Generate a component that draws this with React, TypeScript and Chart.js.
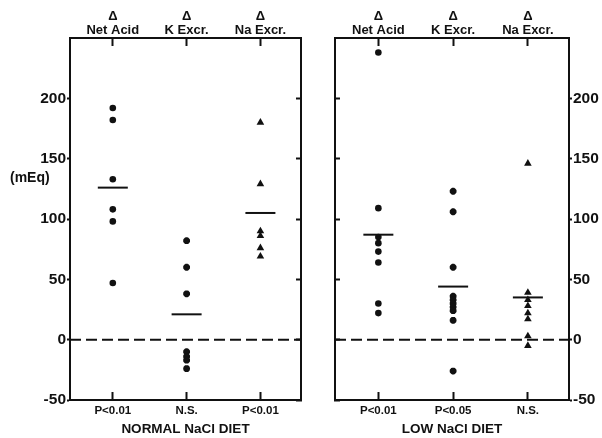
import React, { useEffect, useRef } from 'react';
import { Chart, registerables } from 'chart.js';

Chart.register(...registerables);

const FONT = "'Liberation Sans', Arial, sans-serif";
const INK = '#111111';

const CATEGORY_LABELS = ['Net Acid', 'K Excr.', 'Na Excr.'];
const DELTA = 'Δ';
const Y_MIN = -50;
const Y_MAX = 250;
const Y_STEP = 50;
const ZERO_LINE = 0;
const X_MIN = 0.42;
const X_MAX = 3.55;

// Normal NaCl diet
const NORMAL_NET_ACID = [192, 182, 133, 108, 98, 47];
const NORMAL_K = [82, 60, 38, -10, -14, -17, -24];
const NORMAL_NA = [180, 129, 90, 86, 76, 69];
const NORMAL_MEANS = [126, 21, 105];
const NORMAL_P = ['P<0.01', 'N.S.', 'P<0.01'];
const NORMAL_TITLE = 'NORMAL NaCl DIET';

// Low NaCl diet
const LOW_NET_ACID = [238, 109, 85, 80, 73, 64, 30, 22];
const LOW_K = [123, 106, 60, 36, 33, 30, 27, 24, 16, -26];
const LOW_NA = [146, 39, 33, 28, 22, 17, 3, -5];
const LOW_MEANS = [87, 44, 35];
const LOW_P = ['P<0.01', 'P<0.05', 'N.S.'];
const LOW_TITLE = 'LOW NaCl DIET';

type PanelProps = {
  side: 'left' | 'right';
  netAcid: number[];
  k: number[];
  na: number[];
  means: number[];
  pLabels: string[];
  title: string;
  width: number;
  height: number;
};

function catTicks(scale: any) {
  scale.ticks = CATEGORY_LABELS.map((_, i) => ({ value: i + 1 }));
}

function fixX(s: any) {
  s.height = 38;
  s.paddingLeft = 0;
  s.paddingRight = 0;
}

function Panel(props: PanelProps) {
  const ref = useRef<HTMLCanvasElement | null>(null);
  useEffect(() => {
    if (!ref.current) return;
    const { side, netAcid, k, na, means, pLabels, title } = props;
    const outerWidth = side === 'left' ? 70 : 33;
    const innerWidth = side === 'left' ? 1 : 33;
    const inwardGrid = {
      display: true,
      drawOnChartArea: false,
      drawTicks: true,
      tickLength: -8,
      tickWidth: 2,
      tickColor: INK,
      color: INK,
    };
    const border = { display: true, width: 2, color: INK };
    const chart = new Chart(ref.current, {
      type: 'scatter',
      data: {
        datasets: [
          {
            data: netAcid.map((v) => ({ x: 1, y: v })),
            pointStyle: 'circle',
            pointRadius: 3.3,
            backgroundColor: INK,
            borderColor: INK,
            borderWidth: 0,
          },
          {
            data: k.map((v) => ({ x: 2, y: v })),
            pointStyle: 'star',
            pointRadius: 3.4,
            backgroundColor: INK,
            borderColor: INK,
            borderWidth: 2.4,
          },
          {
            data: na.map((v) => ({ x: 3, y: v })),
            pointStyle: 'triangle',
            pointRadius: 4.4,
            backgroundColor: INK,
            borderColor: INK,
            borderWidth: 0,
          },
          {
            data: means.map((m, i) => ({ x: i + 1, y: m })),
            pointStyle: 'line',
            pointRadius: 15,
            borderColor: INK,
            borderWidth: 2,
          },
          {
            type: 'line',
            data: [
              { x: X_MIN, y: ZERO_LINE },
              { x: X_MAX, y: ZERO_LINE },
            ],
            borderColor: INK,
            borderWidth: 2,
            borderDash: [11, 5],
            pointRadius: 0,
            fill: false,
          } as any,
        ],
      },
      options: {
        animation: false,
        responsive: false,
        devicePixelRatio: 1,
        layout: { padding: 0, autoPadding: false },
        plugins: { legend: { display: false }, tooltip: { enabled: false } },
        scales: {
          x: {
            type: 'linear',
            position: 'bottom',
            min: X_MIN,
            max: X_MAX,
            afterBuildTicks: catTicks,
            ticks: {
              callback: (v: any) => pLabels[Number(v) - 1] ?? '',
              font: { family: FONT, size: 11.5, weight: 'bold' },
              color: INK,
              padding: 12,
              maxRotation: 0,
              autoSkip: false,
            },
            grid: inwardGrid,
            border,
            title: {
              display: true,
              text: title,
              color: INK,
              font: { family: FONT, size: 13.5, weight: 'bold' },
              padding: { top: 0, bottom: 1 },
            },
            afterFit: fixX,
          },
          xTop: {
            type: 'linear',
            position: 'top',
            min: X_MIN,
            max: X_MAX,
            afterBuildTicks: catTicks,
            ticks: {
              callback: (v: any) => [DELTA, CATEGORY_LABELS[Number(v) - 1] ?? ''],
              font: { family: FONT, size: 13, weight: 'bold', lineHeight: 1.05 },
              color: INK,
              padding: 9,
              maxRotation: 0,
              autoSkip: false,
            },
            grid: inwardGrid,
            border,
            afterFit: fixX,
          },
          y: {
            type: 'linear',
            position: side,
            min: Y_MIN,
            max: Y_MAX,
            ticks: {
              stepSize: Y_STEP,
              callback: (v: any) => (Number(v) === Y_MAX ? '' : String(v)),
              font: { family: FONT, size: 15.5, weight: 'bold' },
              color: INK,
              padding: 1,
            },
            grid: {
              display: true,
              drawOnChartArea: false,
              drawTicks: true,
              tickLength: 3,
              tickWidth: 2,
              tickColor: (ctx: any) => (ctx.tick && ctx.tick.value === Y_MAX ? 'rgba(0,0,0,0)' : INK),
              color: INK,
            },
            border,
            afterFit: (s: any) => {
              s.width = outerWidth;
            },
          },
          yInner: {
            type: 'linear',
            position: side === 'left' ? 'right' : 'left',
            min: Y_MIN,
            max: Y_MAX,
            ticks: { stepSize: Y_STEP, display: false },
            grid: {
              display: true,
              drawOnChartArea: false,
              drawTicks: true,
              tickLength: -5,
              tickWidth: 2,
              tickColor: (ctx: any) => (ctx.tick && ctx.tick.value === Y_MAX ? 'rgba(0,0,0,0)' : INK),
              color: INK,
            },
            border,
            afterFit: (s: any) => {
              s.width = innerWidth;
            },
          },
        },
      } as any,
    });
    return () => chart.destroy();
  }, []);
  return (
    <canvas
      ref={ref}
      width={props.width}
      height={props.height}
      style={{ display: 'block', width: props.width, height: props.height }}
    />
  );
}

export default function App() {
  return (
    <div
      style={{
        position: 'absolute',
        left: 0,
        top: 0,
        width: 602,
        height: 438,
        background: '#fff',
        overflow: 'hidden',
      }}
    >
      <div style={{ position: 'absolute', left: 0, top: 0 }}>
        <Panel
          side="left"
          netAcid={NORMAL_NET_ACID}
          k={NORMAL_K}
          na={NORMAL_NA}
          means={NORMAL_MEANS}
          pLabels={NORMAL_P}
          title={NORMAL_TITLE}
          width={302}
          height={438}
        />
      </div>
      <div style={{ position: 'absolute', left: 302, top: 0 }}>
        <Panel
          side="right"
          netAcid={LOW_NET_ACID}
          k={LOW_K}
          na={LOW_NA}
          means={LOW_MEANS}
          pLabels={LOW_P}
          title={LOW_TITLE}
          width={300}
          height={438}
        />
      </div>
      <div
        style={{
          position: 'absolute',
          left: 10,
          top: 169,
          fontFamily: FONT,
          fontWeight: 'bold',
          fontSize: 14,
          lineHeight: '16px',
          color: INK,
        }}
      >
        (mEq)
      </div>
    </div>
  );
}
